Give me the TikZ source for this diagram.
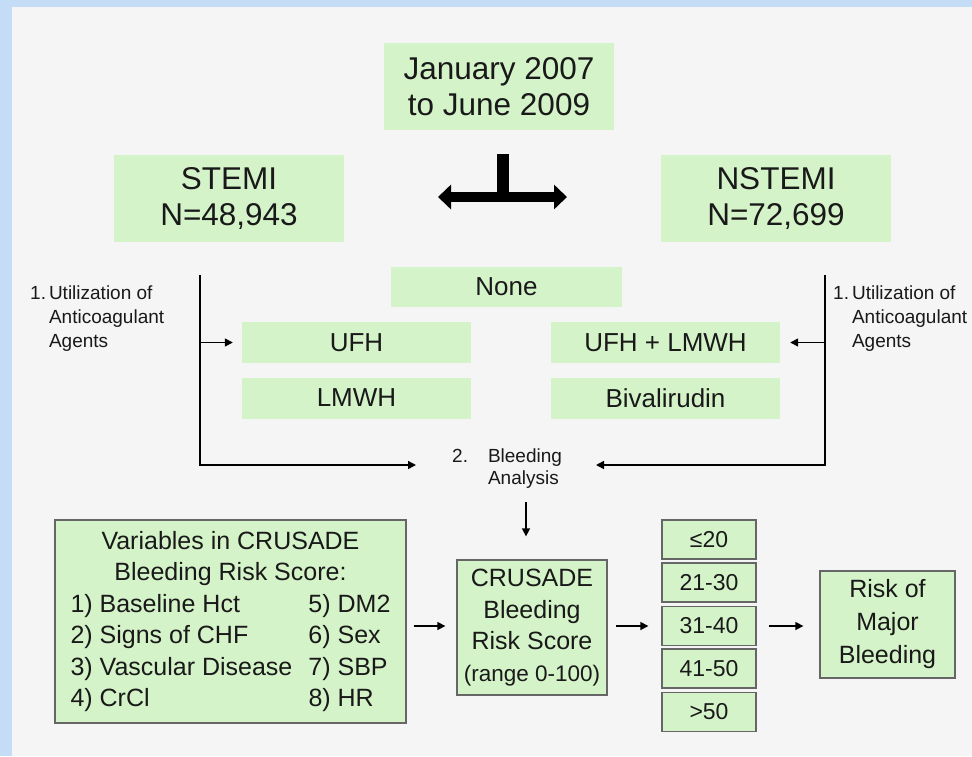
\documentclass[tikz,border=0pt]{standalone}
\usepackage{fontspec}
\setmainfont{Liberation Sans}
\usetikzlibrary{arrows.meta}

\definecolor{boxgreen}{RGB}{213,243,201}
\definecolor{panel}{RGB}{245,245,245}
\definecolor{edgeblue}{RGB}{197,220,246}

\newcommand{\fs}[2]{\fontsize{#1}{#2}\selectfont}
\newcommand{\varpair}[2]{\makebox[320pt][l]{\makebox[238pt][l]{#1}#2}}

\begin{document}
\begin{tikzpicture}[x=1pt,y=-1pt,text=black!90,
  band/.style={fill=boxgreen,inner sep=0pt,align=center,font=\fs{26}{31}},
  headbox/.style={band,minimum width=230pt,minimum height=87pt,font=\fs{31.5}{36.5}},
  drugbox/.style={band,minimum width=229pt,minimum height=41pt},
  scorebox/.style={band,draw=black!60,line width=1.3pt,font=\fs{25}{31.5}},
  rangebox/.style={scorebox,minimum width=94pt,minimum height=39pt,font=\fs{23}{27}},
  sidenote/.style={inner sep=0pt,font=\fs{19}{24}},
  link/.style={line width=1.5pt,-{Triangle[length=8pt,width=8pt]}},
  fork/.style={line width=10pt}]
% background
\fill[edgeblue] (0,0) rectangle (972,756);
\fill[panel] (12,7) rectangle (972,756);
\useasboundingbox (0,0) rectangle (972,756);

% top
\node[headbox] (period) at (499,86.5) {January 2007\\to June 2009};
\node[headbox] (stemi) at (229,198.5) {STEMI\\N=48,943};
\node[headbox] (nstemi) at (776,198.5) {NSTEMI\\N=72,699};

\coordinate (forkTop) at (503,154);
\coordinate (forkMid) at (503,197);
\coordinate (forkL) at (438,197);
\coordinate (forkR) at (567,197);
\draw[line width=12pt] (forkTop) -- ([yshift=4pt]forkMid);
\draw[fork,{Triangle[length=13pt,width=24pt]}-{Triangle[length=13pt,width=24pt]}] (forkL) -- (forkR);

% anticoagulants
\node[drugbox,minimum width=231pt,minimum height=40pt] (none) at (506.5,287) {None};
\node[drugbox] (ufh) at (356.5,342.5) {UFH};
\node[drugbox] (lmwh) at (356.5,398) {LMWH};
\node[drugbox] (mix) at (665.5,342.5) {UFH + LMWH};
\node[drugbox] (biv) at (665.5,398) {Bivalirudin};

\node[sidenote,anchor=base west] (useL) at (30,299)
  {\begin{tabular}[t]{@{}l@{\hspace{3pt}}l@{}}1. & Utilization of\\ & Anticoagulant\\ & Agents\end{tabular}};
\node[sidenote,anchor=base west] (useR) at (833,299)
  {\begin{tabular}[t]{@{}l@{\hspace{3pt}}l@{}}1. & Utilization of\\ & Anticoagulant\\ & Agents\end{tabular}};

\node[sidenote,font=\fs{19}{22},anchor=base west] (analysis) at (452,462)
  {\begin{tabular}[t]{@{}l@{\hspace{20pt}}l@{}}2. & Bleeding\\ & Analysis\end{tabular}};

\coordinate (stemiDrop) at (200,275);
\coordinate (stemiCorner) at (200,465);
\coordinate (leftIn) at (416,465);
\coordinate (nstemiDrop) at (825,275);
\coordinate (nstemiCorner) at (825,465);
\coordinate (rightIn) at (596,465);
\draw[link] (stemiDrop) -- (stemiCorner) -- (leftIn);
\draw[link] (nstemiDrop) -- (nstemiCorner) -- (rightIn);
\draw[link,shorten >=9pt] (stemiDrop |- ufh.west) -- (ufh.west);
\draw[link,shorten >=10pt] (nstemiDrop |- mix.east) -- (mix.east);

% score
\node[scorebox,minimum width=351pt,minimum height=203pt] (vars) at (230.5,621.5)
  {Variables in CRUSADE\\Bleeding Risk Score:\\
   \varpair{1) Baseline Hct}{5) DM2}\\
   \varpair{2) Signs of CHF}{6) Sex}\\
   \varpair{3) Vascular Disease}{7) SBP}\\
   \varpair{4) CrCl}{8) HR}};
\node[scorebox,minimum width=150pt,minimum height=135pt] (crusade) at (532,627.5)
  {CRUSADE\\Bleeding\\Risk Score\\{\fs{22.5}{27}(range 0-100)}};
\node[rangebox] (range1) at (709,539.5) {≤20};
\node[rangebox] (range2) at (709,582.5) {21-30};
\node[rangebox] (range3) at (709,626) {31-40};
\node[rangebox] (range4) at (709,668.5) {41-50};
\node[rangebox] (range5) at (709,712) {>50};
\node[scorebox,minimum width=135pt,minimum height=107pt,font=\fs{25}{33}] (risk) at (887.5,624.5)
  {Risk of\\Major\\Bleeding};

\coordinate (dropTop) at (526,502);
\draw[link,shorten >=23pt] (dropTop) -- (dropTop |- crusade.north);
\draw[link,shorten <=7pt,shorten >=11pt] (vars.east |- range3) -- (crusade.west |- range3);
\draw[link,shorten <=8pt,shorten >=13pt] (crusade.east |- range3) -- (range3.west);
\draw[link,shorten <=12pt,shorten >=16pt] (range3.east) -- (risk.west |- range3);
\end{tikzpicture}
\end{document}
